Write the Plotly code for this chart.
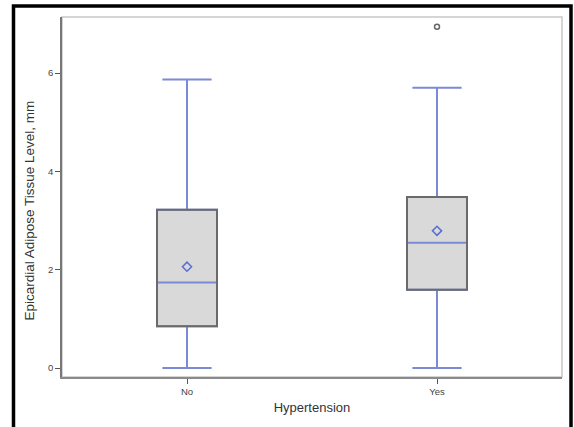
import plotly.graph_objects as go

categories = ["No", "Yes"]
q1 = [0.85, 1.59]
median = [1.74, 2.55]
q3 = [3.22, 3.48]
lower_fence = [0.0, 0.0]
upper_fence = [5.87, 5.70]
means = [2.06, 2.79]
outlier_cat = ["Yes"]
outlier_val = [6.94]
y_title = "Epicardial Adipose Tissue Level, mm"
x_title = "Hypertension"

pos = list(range(len(categories)))
box_w = 0.24
blue = "#7b8ad6"

fig = go.Figure()
fig.add_trace(go.Box(
    x=pos, q1=q1, median=median, q3=q3,
    lowerfence=lower_fence, upperfence=upper_fence,
    width=box_w, whiskerwidth=0.82,
    fillcolor="#d9d9d9", line=dict(color=blue, width=2),
    boxpoints=False, showlegend=False, hoverinfo="skip",
))
fig.add_trace(go.Scatter(
    x=pos, y=means, mode="markers",
    marker=dict(symbol="diamond-open", size=7, color="#5a6fd0", line=dict(width=1.5)),
    showlegend=False,
))
fig.add_trace(go.Scatter(
    x=[categories.index(c) for c in outlier_cat], y=outlier_val, mode="markers",
    marker=dict(symbol="circle-open", size=5, color="#666666", line=dict(width=1.5)),
    showlegend=False,
))

shapes = []
for i in pos:
    shapes.append(dict(type="rect", xref="x", yref="y",
                       x0=i - box_w / 2, x1=i + box_w / 2, y0=q1[i], y1=q3[i],
                       line=dict(color="#6a6a6a", width=2), layer="above"))
# plot frame (light grey top/right)
shapes.append(dict(type="rect", xref="paper", yref="paper", x0=0, x1=1, y0=0, y1=1,
                   line=dict(color="#c8c8c8", width=1.5), layer="below"))
# outer black border
W, H = 574, 427
L, R, T, B = 62, 12, 17, 50
pw, ph = W - L - R, H - T - B
def px(xp): return (xp - L) / pw
def py(yp): return (H - B - yp) / ph
shapes.append(dict(type="rect", xref="paper", yref="paper",
                   x0=px(13.5), x1=px(571), y0=py(440), y1=py(6),
                   line=dict(color="#000000", width=3.5)))

fig.update_layout(
    width=W, height=H,
    margin=dict(l=L, r=R, t=T, b=B, autoexpand=False),
    paper_bgcolor="white", plot_bgcolor="white",
    shapes=shapes,
    font=dict(family="Liberation Sans, Arial, sans-serif", color="#333333"),
    annotations=[dict(text=y_title, textangle=-90, xref="paper", yref="paper",
                      x=px(28.5), y=py(211), xanchor="center", yanchor="middle",
                      showarrow=False, font=dict(size=13.5, color="#333333"))],
    xaxis=dict(
        range=[-0.5, 1.5], tickvals=pos, ticktext=categories,
        showline=True, linecolor="#8a8a8a", linewidth=2,
        ticks="outside", ticklen=5, tickcolor="#555555",
        showgrid=False, zeroline=False,
        tickfont=dict(size=9.5, color="#444444"),
        title=dict(text=x_title, font=dict(size=13), standoff=6),
    ),
    yaxis=dict(
        range=[-0.183, 7.14], tickvals=[0, 2, 4, 6],
        showline=True, linecolor="#777777", linewidth=1.5,
        ticks="outside", ticklen=5, tickcolor="#555555",
        showgrid=False, zeroline=False,
        tickfont=dict(size=9.5, color="#444444"),
    ),
)

fig.write_html("out.html", config={"displayModeBar": False},
               post_script="document.body.style.margin='0';")
